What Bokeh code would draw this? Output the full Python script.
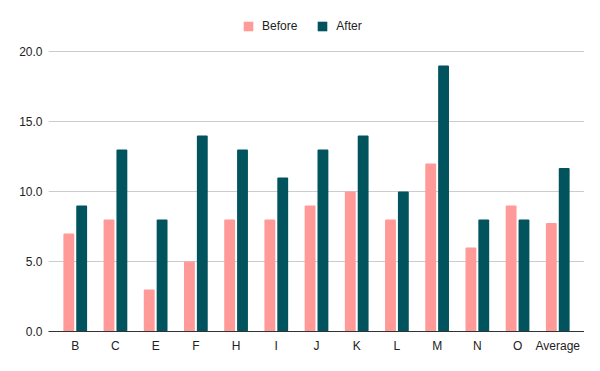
from bokeh.plotting import figure
from bokeh.models import FactorRange, Legend, LegendItem, FixedTicker, NumeralTickFormatter, Range1d
from bokeh.transform import dodge
from bokeh.embed import file_html
from bokeh.resources import INLINE

categories = ["B", "C", "E", "F", "H", "I", "J", "K", "L", "M", "N", "O", "Average"]
before = [7, 8, 3, 5, 8, 8, 9, 10, 8, 12, 6, 9, 7.75]
after = [9, 13, 8, 14, 13, 11, 13, 14, 10, 19, 8, 8, 11.67]
y_ticks = [0, 5, 10, 15, 20]

PINK = "#ff9a98"
TEAL = "#01535e"

x_range = FactorRange(factors=categories, range_padding=0.165, range_padding_units="absolute")
# extra headroom above 20 leaves space for the legend inside the frame
p = figure(x_range=x_range, y_range=Range1d(0, 22.92), width=584, height=355,
           output_backend="svg", toolbar_location=None,
           min_border_left=48, min_border_right=0, min_border_bottom=23, min_border_top=10)

src = dict(cat=categories, before=before, after=after)
r1 = p.vbar(x=dodge("cat", -0.16, range=x_range), top="before", width=0.27, source=src,
            fill_color=PINK, line_color=None, border_radius=1)
r2 = p.vbar(x=dodge("cat", 0.16, range=x_range), top="after", width=0.27, source=src,
            fill_color=TEAL, line_color=None, border_radius=1)

p.outline_line_color = None
p.xgrid.grid_line_color = None
p.ygrid.grid_line_color = "#cccccc"
p.ygrid.grid_line_width = 1

p.yaxis.ticker = FixedTicker(ticks=y_ticks)
p.yaxis.formatter = NumeralTickFormatter(format="0.0")
p.yaxis.axis_line_color = None
p.yaxis.major_tick_line_color = None
p.yaxis.minor_tick_line_color = None
p.yaxis.major_tick_out = 0
p.yaxis.major_tick_in = 0
p.yaxis.major_label_standoff = 6
p.yaxis.major_label_text_font = "Liberation Sans"
p.yaxis.major_label_text_font_size = "12px"
p.yaxis.major_label_text_color = "#222222"

p.xaxis.axis_line_color = "#333333"
p.xaxis.axis_line_width = 1
p.xaxis.major_tick_line_color = None
p.xaxis.minor_tick_line_color = None
p.xaxis.major_tick_out = 0
p.xaxis.major_tick_in = 0
p.xaxis.major_label_standoff = 7
p.xaxis.major_label_text_font = "Liberation Sans"
p.xaxis.major_label_text_font_size = "12px"
p.xaxis.major_label_text_color = "#222222"

legend = Legend(items=[LegendItem(label="Before", renderers=[r1]),
                       LegendItem(label="After", renderers=[r2])],
                orientation="horizontal", location=(194, 298),
                border_line_color=None, background_fill_alpha=0,
                glyph_width=12, glyph_height=12, label_text_font="Liberation Sans",
                label_text_font_size="12px", label_text_color="#222222",
                spacing=19, label_standoff=8, padding=0, margin=0)
p.add_layout(legend, "center")

open("out.html", "w").write(file_html(p, INLINE))
